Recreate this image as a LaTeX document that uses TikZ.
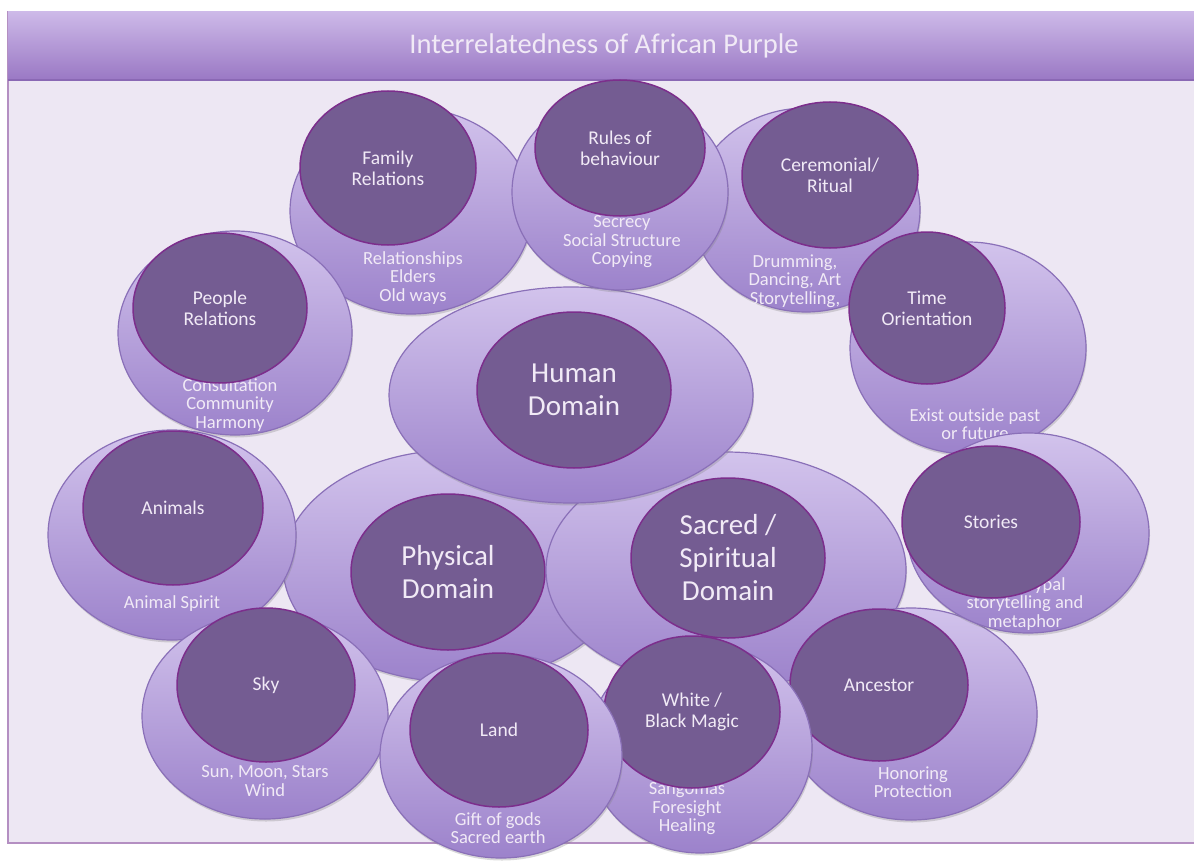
\documentclass[tikz,border=0pt]{standalone}
\usepackage{fontspec}
\setmainfont{Carlito}
\usetikzlibrary{shapes.geometric,shadows}
\definecolor{framebg}{HTML}{EDE7F3}
\definecolor{framerim}{HTML}{B48FC2}
\definecolor{bandtop}{HTML}{CDB9E8}
\definecolor{bandbot}{HTML}{9A78C4}
\definecolor{bandrim}{HTML}{8A68B4}
\definecolor{outertop}{HTML}{D2C3EC}
\definecolor{outerbot}{HTML}{9C82CB}
\definecolor{outerrim}{HTML}{8A70B8}
\definecolor{innerfill}{HTML}{745C92}
\definecolor{innerrim}{HTML}{7C2E8C}
\definecolor{lighttext}{HTML}{F1EAF6}
\begin{document}
\begin{tikzpicture}[x=1pt,y=-1pt,
		ringbox/.style={ellipse,draw=outerrim,line width=1.2pt,top color=outertop,bottom color=outerbot,inner sep=0pt,
			drop shadow={shadow xshift=1pt,shadow yshift=-2.5pt,opacity=.3}},
		corebox/.style={ellipse,draw=innerrim,line width=1.5pt,fill=innerfill,text=lighttext,align=center,inner sep=0pt,
			font=\fontsize{19.5}{21}\selectfont},
		dombox/.style={corebox,font=\fontsize{29}{33}\selectfont},
		subtext/.style={text=lighttext,align=center,inner sep=0pt,font=\fontsize{18.5}{18.5}\selectfont}]
	\useasboundingbox (0,0) rectangle (1194,864);
	% Draw frame
	\draw[framerim,line width=2pt,fill=framebg] (8,12) rectangle (1204,843);
	% Draw title band
	\shade[top color=bandtop,bottom color=bandbot] (8,12) rectangle (1204,80);
	\draw[bandrim,line width=1.5pt] (8,80) -- (1204,80);
	\node[text=lighttext,font=\fontsize{28.5}{30}\selectfont] (title) at (604,46) {Interrelatedness of African Purple};

	% Draw the three domains
	\node[ringbox,minimum width=344,minimum height=232] (physo) at (455,566) {};
	\node[dombox,minimum width=194,minimum height=156] (physi) at (448,572) {Physical\\Domain};
	\node[ringbox,minimum width=360,minimum height=236] (sacro) at (726,570) {};
	\node[dombox,minimum width=194,minimum height=160] (sacri) at (728,558) {Sacred /\\Spiritual\\Domain};
	\node[ringbox,minimum width=364,minimum height=216] (humano) at (571,395) {};
	\node[dombox,minimum width=194,minimum height=156] (humani) at (574,390) {Human\\Domain};

	% Draw the circles round them
	\node[ringbox,minimum width=242,minimum height=206] (familyo) at (411,211) {};
	\node[subtext] (familys) at (413,278) {Relationships\\Elders\\Old ways};
	\node[corebox,minimum width=176,minimum height=154] (familyi) at (388,168) {Family\\Relations};

	\node[ringbox,minimum width=228,minimum height=204] (cereo) at (806,210) {};
	\node[subtext] (ceres) at (795,281) {Drumming,\\Dancing, Art\\Storytelling,};
	\node[corebox,minimum width=176,minimum height=146] (cerei) at (830,175) {Ceremonial/\\Ritual};

	\node[ringbox,minimum width=216,minimum height=196] (ruleso) at (620,192) {};
	\node[subtext] (ruless) at (622,242) {Secrecy\\Social Structure\\Copying};
	\node[corebox,minimum width=170,minimum height=136] (rulesi) at (620,148) {Rules of\\behaviour};

	\node[ringbox,minimum width=234,minimum height=204] (peopleo) at (235,333) {};
	\node[subtext] (peoples) at (230,405) {Consultation\\Community\\Harmony};
	\node[corebox,minimum width=174,minimum height=150] (peoplei) at (220,308) {People\\Relations};

	\node[ringbox,minimum width=236,minimum height=212] (timeo) at (968,348) {};
	\node[subtext] (times) at (975,424) {Exist outside past\\or future};
	\node[corebox,minimum width=156,minimum height=152] (timei) at (927,308) {Time\\Orientation};

	\node[ringbox,minimum width=252,minimum height=212] (ancestoro) at (911,714) {};
	\node[subtext] (ancestors) at (913,782) {Honoring\\Protection};
	\node[corebox,minimum width=178,minimum height=152] (ancestori) at (879,685) {Ancestor};

	\node[ringbox,minimum width=242,minimum height=200] (storieso) at (1028,533) {};
	\node[subtext] (storiess) at (1025,604) {Archetypal\\storytelling and\\metaphor};
	\node[corebox,minimum width=178,minimum height=152] (storiesi) at (991,522) {Stories};

	\node[ringbox,minimum width=248,minimum height=210] (animalso) at (172,535) {};
	\node[subtext] (animalss) at (172,604) {Animal Spirit};
	\node[corebox,minimum width=180,minimum height=154] (animalsi) at (173,508) {Animals};

	\node[ringbox,minimum width=246,minimum height=206] (skyo) at (265,716) {};
	\node[subtext] (skys) at (265,781) {Sun, Moon, Stars\\Wind};
	\node[corebox,minimum width=178,minimum height=154] (skyi) at (266,685) {Sky};

	\node[ringbox,minimum width=224,minimum height=210] (magico) at (700,748) {};
	\node[subtext] (magics) at (687,809) {Sangomas\\Foresight\\Healing};
	\node[corebox,minimum width=176,minimum height=152] (magici) at (692,712) {White /\\Black Magic};

	\node[ringbox,minimum width=242,minimum height=204] (lando) at (501,756) {};
	\node[subtext] (lands) at (498,828) {Gift of gods\\Sacred earth};
	\node[corebox,minimum width=178,minimum height=154] (landi) at (499,730) {Land};
\end{tikzpicture}
\end{document}
